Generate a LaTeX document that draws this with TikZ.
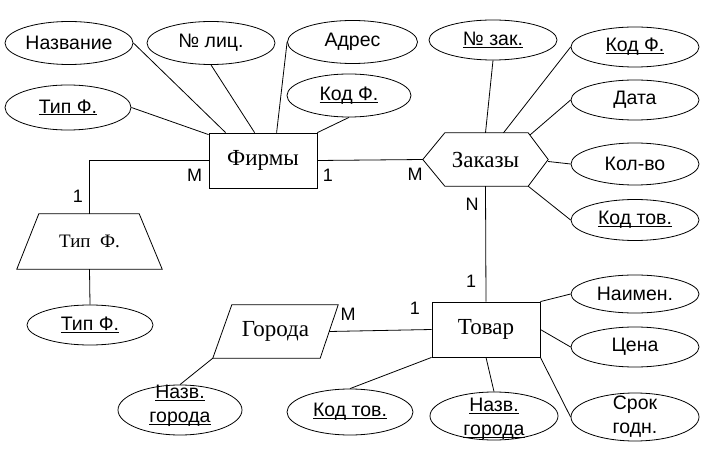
\documentclass[tikz,border=0pt]{standalone}
\usepackage{fontspec}
\usetikzlibrary{shapes.geometric}
\setmainfont{Liberation Serif}
\setsansfont{Liberation Sans}
\newcommand\ulx[1]{\underline{\smash{#1}}\vphantom{#1}}
\begin{document}
\begin{tikzpicture}[x=1pt,y=-1pt,
  con/.style={line width=0.8pt},
  attr/.style={draw, ellipse, inner sep=0pt, line width=0.8pt},
  atxt/.style={font=\sffamily\fontsize{19.5}{24}\selectfont, align=center, inner sep=0pt},
  ent/.style={draw, rectangle, line width=0.8pt, minimum width=108pt, minimum height=55pt, inner sep=0pt, font=\rmfamily\fontsize{23}{27}\selectfont},
  shp/.style={inner sep=0pt, font=\rmfamily\fontsize{23}{27}\selectfont},
  card/.style={font=\sffamily\fontsize{18}{20}\selectfont, inner sep=0pt}]
\useasboundingbox (0,0) rectangle (707,449);

% entities
\node[ent] (firm) at (263,160.5) {Фирмы};
\node[ent] (tov) at (486,329.5) {Товар};
\node[shp, minimum width=125pt, minimum height=53pt] (zak) at (485.5,159.5) {Заказы};
\draw[con] (zak.west) -- ([xshift=22pt]zak.north west) -- ([xshift=-20pt]zak.north east) -- (zak.east) -- ([xshift=-20pt]zak.south east) -- ([xshift=22pt]zak.south west) -- cycle;
\node[shp, font=\rmfamily\fontsize{19}{23}\selectfont, minimum width=145pt, minimum height=55pt] (tipe) at (89.5,241.5) {Тип\ \ Ф.};
\draw[con] (tipe.south west) -- ([xshift=22pt]tipe.north west) -- ([xshift=-23pt]tipe.north east) -- (tipe.south east) -- cycle;
\node[shp, minimum width=125pt, minimum height=53pt] (gor) at (275.5,331.5) {Города};
\draw[con] (gor.south west) -- ([xshift=19pt]gor.north west) -- (gor.north east) -- ([xshift=-18pt]gor.south east) -- cycle;

% attributes
\node[attr, minimum width=128pt, minimum height=43pt, label={[atxt]center:Название}] (nazv) at (69,43) {};
\node[attr, minimum width=128pt, minimum height=43pt, label={[atxt]center:№ лиц.}] (lic) at (211,43) {};
\node[attr, minimum width=130pt, minimum height=43pt, label={[atxt]center:Адрес}] (adr) at (352.5,42) {};
\node[attr, minimum width=126pt, minimum height=45pt, label={[atxt]center:\ulx{Тип Ф.}}] (tipf1) at (68,107.5) {};
\node[attr, minimum width=124pt, minimum height=43pt, label={[atxt]center:\ulx{Код Ф.}}] (kodf1) at (349,95.5) {};

\node[attr, minimum width=128pt, minimum height=40pt, label={[atxt]center:\ulx{№ зак.}}] (nzak) at (493,40) {};
\node[attr, minimum width=128pt, minimum height=40pt, label={[atxt]center:\ulx{Код Ф.}}] (kodf2) at (635,47) {};
\node[attr, minimum width=128pt, minimum height=40pt, label={[atxt]center:Дата}] (data) at (635,100) {};
\node[attr, minimum width=128pt, minimum height=42pt, label={[atxt]center:Кол-во}] (kol) at (635,164) {};
\node[attr, minimum width=128pt, minimum height=41pt, label={[atxt]center:\ulx{Код тов.}}] (kodt1) at (635,220) {};

\node[attr, minimum width=126pt, minimum height=40pt, label={[atxt]center:\ulx{Тип Ф.}}] (tipf2) at (90,325) {};

\node[attr, minimum width=128pt, minimum height=38pt, label={[atxt]center:Наимен.}] (naim) at (635,294) {};
\node[attr, minimum width=128pt, minimum height=40pt, label={[atxt]center:Цена}] (cena) at (635,347) {};
\node[attr, minimum width=128pt, minimum height=48pt, label={[atxt]center:Срок\\годн.}] (srok) at (635,417) {};
\node[attr, minimum width=128pt, minimum height=48pt, label={[atxt,yshift=-3pt]center:\ulx{Назв.}\\\ulx{города}}] (nazg2) at (494,416) {};
\node[attr, minimum width=126pt, minimum height=46pt, label={[atxt]center:\ulx{Код тов.}}] (kodt2) at (350,412) {};
\node[attr, minimum width=124pt, minimum height=50pt, label={[atxt,yshift=4pt]center:\ulx{Назв.}\\\ulx{города}}] (nazg1) at (180,410) {};

% connectors
\draw[con] (nazv.east) -- ([xshift=17pt]firm.north west);
\draw[con] (lic.south) -- ([xshift=46pt]firm.north west);
\draw[con] (adr.west) -- ([xshift=68pt]firm.north west);
\draw[con] (tipf1.east) -- ([yshift=-2pt]firm.north west);
\draw[con] (kodf1.south) -- (firm.north east);

\draw[con] (nzak.south) -- (zak.north);
\draw[con] (kodf2.west) -- ([xshift=18pt]zak.north);
\draw[con] (data.west) -- ([xshift=-18pt,yshift=-2pt]zak.north east);
\draw[con] (kol.west) -- ([yshift=-2pt]zak.east);
\draw[con] (kodt1.west) -- ([xshift=-20pt]zak.south east);

\draw[con] (firm.east) -- (zak.west);
\draw[con] (zak.south) -- (tov.north);
\draw[con] (firm.west) -| (tipe.north);
\draw[con] (tipe.south) -- (tipf2.north);

\draw[con] (naim.west) -- (tov.north east);
\draw[con] (cena.west) -- (tov.east);
\draw[con] (srok.west) -- (tov.south east);
\draw[con] (nazg2.north) -- (tov.south);
\draw[con] (kodt2.north) -- (tov.south west);
\draw[con] ([xshift=-9pt]gor.east) -- (tov.west);
\draw[con] (nazg1.north) -- (gor.south west);

% cardinalities
\node[card] (c1) at (194.5,175) {M};
\node[card] (c2) at (328,175) {1};
\node[card] (c3) at (415,174) {M};
\node[card] (c4) at (78,196) {1};
\node[card] (c5) at (472,204) {N};
\node[card] (c6) at (471,281) {1};
\node[card] (c7) at (415,308) {1};
\node[card] (c8) at (348,314) {M};
\end{tikzpicture}
\end{document}
